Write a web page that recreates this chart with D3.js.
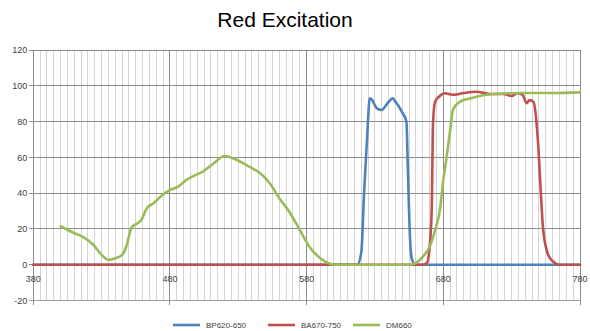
<!DOCTYPE html>
<html><head><meta charset="utf-8">
<script src="https://cdn.jsdelivr.net/npm/d3@7"></script>
<style>
html,body{margin:0;padding:0;background:#fff;}
svg{display:block;font-family:"Liberation Sans",Arial,sans-serif;}
</style></head>
<body><svg id="chart" width="590" height="331"></svg>
<script>
const title = "Red Excitation";
const xTicks = [380, 480, 580, 680, 780];
const yTicks = [-20, 0, 20, 40, 60, 80, 100, 120];
const seriesNames = ["BP620-650", "BA670-750", "DM660"];
const seriesColors = ["#4f81bd", "#c0504d", "#9bbb59"];

const bpWl  = [380, 617, 620, 622, 625, 626, 628, 630, 632, 635, 637, 640, 643, 645, 647, 650, 653, 654, 655.5, 657, 660, 780];
const bpVal = [0, 0, 7, 40, 82, 93, 92, 89, 87, 86.5, 88, 91, 93, 91, 89, 85, 80, 55, 17, 3, 0, 0];

const baWl  = [380, 665, 668, 670, 671.5, 672.5, 674, 677, 681, 687, 694, 704, 714, 724, 730, 734, 738, 741, 743, 746, 748, 749.5, 751, 753, 756.5, 760, 765, 780];
const baVal = [0, 0, 1, 10, 31, 80, 91, 94, 95.8, 95, 95.8, 96.7, 95.4, 95.4, 94.3, 95.8, 94.9, 90.2, 92, 91, 81, 66, 45, 20, 6, 2, 0, 0];

const dmWl  = [400, 409, 416, 424, 430, 435, 440, 445, 448, 452, 456, 459, 463, 468, 473, 480, 486, 492, 497, 504, 512, 520, 529, 538, 546, 553, 560, 568, 575, 582, 590, 596, 600, 655, 660, 665, 670, 674, 677.5, 680, 682.5, 685, 687, 692, 700, 710, 720, 740, 760, 780];
const dmVal = [21.5, 18, 15.7, 11, 5.5, 2.7, 3.6, 5.5, 10, 21, 23, 25, 31.5, 34.4, 38, 41.8, 43.6, 47.4, 49.5, 52, 56.7, 60.8, 58.5, 54.8, 51.1, 45.5, 37.2, 28.8, 19.4, 10.1, 3.6, 0.8, 0, 0, 1, 4.5, 10, 19.4, 30.6, 47.4, 60.4, 75.3, 86.5, 91, 93, 94.9, 95.5, 96, 96, 96.3];

const series = [
  {name: seriesNames[0], color: seriesColors[0], pts: bpWl.map((w,i)=>[w, bpVal[i]])},
  {name: seriesNames[1], color: seriesColors[1], pts: baWl.map((w,i)=>[w, baVal[i]])},
  {name: seriesNames[2], color: seriesColors[2], pts: dmWl.map((w,i)=>[w, dmVal[i]])}
];

const svg = d3.select("#chart");
const L = 33.3, R = 580, T = 50, B = 300.5;
const x = d3.scaleLinear().domain([380, 780]).range([L, R]);
const y = d3.scaleLinear().domain([-20, 120]).range([B, T]);

// minor vertical grid every 5 nm
const minor = d3.range(380, 781, 5).filter(v => v % 100 !== 80);
svg.append("g").selectAll("line").data(minor).join("line")
  .attr("x1", d => x(d)).attr("x2", d => x(d)).attr("y1", y(120)).attr("y2", y(-20))
  .attr("stroke", "#d4d4d4").attr("stroke-width", 1).attr("shape-rendering", "crispEdges");

// horizontal grid
svg.append("g").selectAll("line").data(yTicks).join("line")
  .attr("x1", L - 4).attr("x2", R).attr("y1", d => y(d)).attr("y2", d => y(d))
  .attr("stroke", d => d === -20 ? "#a0a0a0" : "#8c8c8c").attr("stroke-width", 1).attr("shape-rendering", "crispEdges");

// major vertical grid
svg.append("g").selectAll("line").data(xTicks).join("line")
  .attr("x1", d => x(d)).attr("x2", d => x(d)).attr("y1", y(120)).attr("y2", y(-20) + 4)
  .attr("stroke", "#8c8c8c").attr("stroke-width", 1).attr("shape-rendering", "crispEdges");

// y labels
svg.append("g").selectAll("text").data(yTicks).join("text")
  .attr("x", L - 6).attr("y", d => y(d)).attr("dy", "0.35em")
  .attr("text-anchor", "end").attr("font-size", 9).attr("fill", "#404040")
  .text(d => d);

// x labels (axis crosses at 0)
svg.append("g").selectAll("text").data(xTicks).join("text")
  .attr("x", d => x(d)).attr("y", y(0) + 17)
  .attr("text-anchor", "middle").attr("font-size", 9).attr("fill", "#404040")
  .text(d => d);

// lines
const line = d3.line().x(d => x(d[0])).y(d => y(d[1])).curve(d3.curveMonotoneX);
svg.append("g").selectAll("path").data(series).join("path")
  .attr("d", d => line(d.pts)).attr("fill", "none")
  .attr("stroke", d => d.color).attr("stroke-width", 2.6)
  .attr("stroke-linejoin", "round").attr("stroke-linecap", "round");

// title
svg.append("text").attr("x", 285).attr("y", 27).attr("text-anchor", "middle")
  .attr("font-size", 21).attr("fill", "#000").text(title);

// legend
const legX = [173, 268, 353];
const leg = svg.append("g").selectAll("g").data(series).join("g")
  .attr("transform", (d, i) => `translate(${legX[i]},325)`);
leg.append("line").attr("x1", 0).attr("x2", 27).attr("y1", 0).attr("y2", 0)
  .attr("stroke", d => d.color).attr("stroke-width", 2.6);
leg.append("text").attr("x", 33).attr("y", 0).attr("dy", "0.35em")
  .attr("font-size", 8).attr("fill", "#404040").text(d => d.name);
</script>
</body></html>
